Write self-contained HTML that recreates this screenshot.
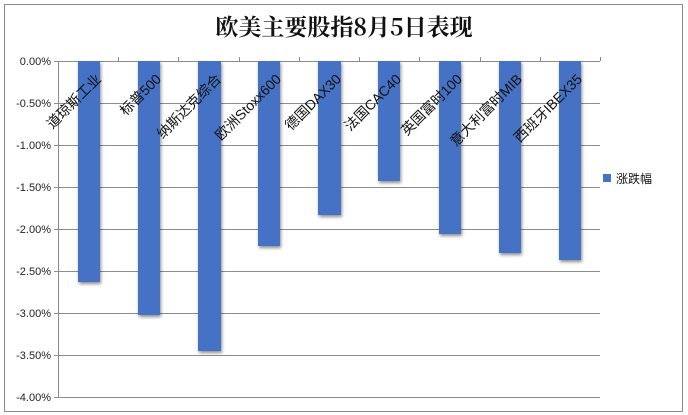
<!DOCTYPE html>
<html><head><meta charset="utf-8"><style>
body{margin:0;background:#fff;}
svg{display:block;font-family:"Liberation Sans","Noto Sans CJK SC",sans-serif;}
</style></head><body>
<svg width="688" height="415" viewBox="0 0 688 415">
<defs><filter id="sh" x="-30%" y="-10%" width="160%" height="130%"><feDropShadow dx="1" dy="2" stdDeviation="1.5" flood-color="#000" flood-opacity="0.45"/></filter></defs>
<rect x="0" y="0" width="688" height="415" fill="#fff"/>
<rect x="4.5" y="4.5" width="678" height="407" fill="#fff" stroke="#8a8a8a" stroke-width="1"/>
<text x="344" y="35" text-anchor="middle" font-size="23" font-family="'Noto Serif CJK SC','Liberation Serif',serif" font-weight="bold" fill="#111">欧美主要股指8月5日表现</text>
<g stroke="#8c8c8c" stroke-width="1">
<line x1="54" y1="61.5" x2="600" y2="61.5"/>
<line x1="54" y1="103.5" x2="600" y2="103.5"/>
<line x1="54" y1="145.5" x2="600" y2="145.5"/>
<line x1="54" y1="187.5" x2="600" y2="187.5"/>
<line x1="54" y1="229.5" x2="600" y2="229.5"/>
<line x1="54" y1="271.5" x2="600" y2="271.5"/>
<line x1="54" y1="313.5" x2="600" y2="313.5"/>
<line x1="54" y1="355.5" x2="600" y2="355.5"/>
<line x1="54" y1="397.5" x2="600" y2="397.5"/>
<line x1="58.5" y1="61" x2="58.5" y2="398"/>
</g>
<g stroke="#8c8c8c"><line x1="118.5" y1="57" x2="118.5" y2="61"/><line x1="178.5" y1="57" x2="178.5" y2="61"/><line x1="239.5" y1="57" x2="239.5" y2="61"/><line x1="299.5" y1="57" x2="299.5" y2="61"/><line x1="359.5" y1="57" x2="359.5" y2="61"/><line x1="419.5" y1="57" x2="419.5" y2="61"/><line x1="480.5" y1="57" x2="480.5" y2="61"/><line x1="540.5" y1="57" x2="540.5" y2="61"/><line x1="600.5" y1="57" x2="600.5" y2="61"/></g>
<g font-size="11" fill="#222" text-anchor="end">
<text x="51" y="65">0.00%</text><text x="51" y="107">-0.50%</text><text x="51" y="149">-1.00%</text><text x="51" y="191">-1.50%</text><text x="51" y="233">-2.00%</text><text x="51" y="275">-2.50%</text><text x="51" y="317">-3.00%</text><text x="51" y="359">-3.50%</text><text x="51" y="401">-4.00%</text>
</g>
<g fill="#4472c4" filter="url(#sh)">
<rect x="78" y="61" width="22" height="221"/>
<rect x="138" y="61" width="22" height="254"/>
<rect x="198" y="61" width="23" height="290"/>
<rect x="258" y="61" width="22" height="185"/>
<rect x="318" y="61" width="23" height="154"/>
<rect x="378" y="61" width="22" height="120"/>
<rect x="439" y="61" width="22" height="173"/>
<rect x="499" y="61" width="22" height="192"/>
<rect x="559" y="61" width="22" height="199"/>
</g>
<g font-size="14" fill="#111" text-anchor="end">
<text transform="translate(102,80) rotate(-45)">道琼斯工业</text>
<text transform="translate(162,80) rotate(-45)">标普500</text>
<text transform="translate(222,80) rotate(-45)">纳斯达克综合</text>
<text transform="translate(282,80) rotate(-45)">欧洲Stoxx600</text>
<text transform="translate(342,80) rotate(-45)">德国DAX30</text>
<text transform="translate(402,80) rotate(-45)">法国CAC40</text>
<text transform="translate(463,80) rotate(-45)">英国富时100</text>
<text transform="translate(523,80) rotate(-45)">意大利富时MIB</text>
<text transform="translate(583,80) rotate(-45)">西班牙IBEX35</text>
</g>
<rect x="603" y="174" width="8" height="8" fill="#4472c4"/>
<text x="616" y="183" font-size="12" fill="#111">涨跌幅</text>
</svg>
</body></html>
